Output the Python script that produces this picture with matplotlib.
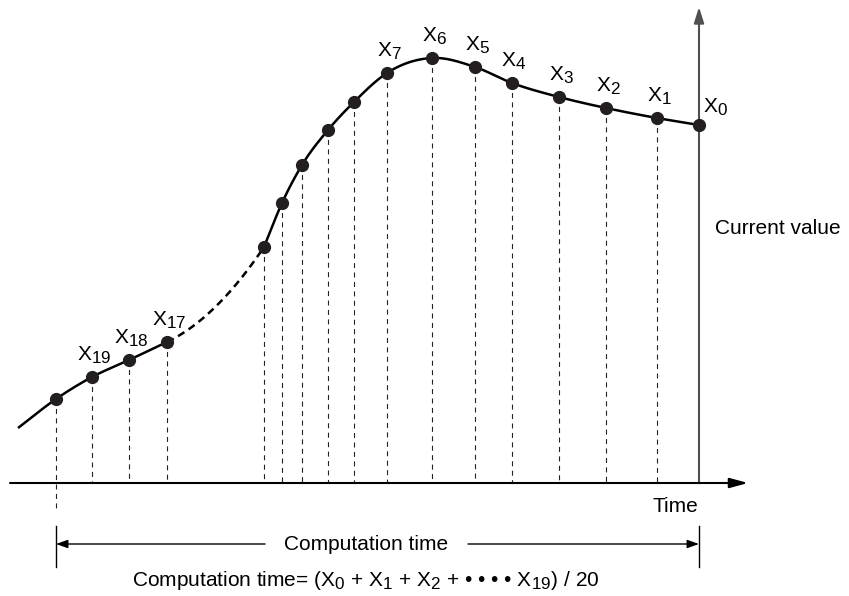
import numpy as np
import matplotlib
matplotlib.use("Agg")
import matplotlib.pyplot as plt

# larger subscripts, closer to the original drawing
try:
    import matplotlib._mathtext as _mt
    _mt.SHRINK_FACTOR = 0.82
except Exception:
    pass

plt.rcParams['font.family'] = ['Liberation Sans', 'DejaVu Sans']
plt.rcParams['mathtext.fontset'] = 'custom'
plt.rcParams['mathtext.rm'] = 'Liberation Sans'
plt.rcParams['mathtext.it'] = 'Liberation Sans'

# sample positions (time) and sampled values, newest (X0) first
sample_time = [699, 657, 606, 559, 512, 475, 432, 387, 354, 328, 302, 282, 264, 167, 129, 92, 56]
sample_value = [471, 478, 488, 499, 513, 529, 538, 523, 494, 466, 431, 393, 349, 254, 236, 219, 197]
sample_label = ['0', '1', '2', '3', '4', '5', '6', '7', '', '', '', '', '', '17', '18', '19', '']

# where the drawn curve starts (before the oldest sample)
trace_start = (18, 168)
# samples hidden by the dashed part of the curve
dashed_from, dashed_to = 167, 264

axis_level = 113       # value where the time axis sits
time_axis_end = 748
value_axis_top = 589
now_time = 699


def hermite(x, y, m, n=40):
    xs, ys = [], []
    for i in range(len(x) - 1):
        h = x[i + 1] - x[i]
        s = np.linspace(0, 1, n)
        h00 = 2 * s**3 - 3 * s**2 + 1
        h10 = s**3 - 2 * s**2 + s
        h01 = -2 * s**3 + 3 * s**2
        h11 = s**3 - s**2
        xs.append(x[i] + s * h)
        ys.append(h00 * y[i] + h10 * h * m[i] + h01 * y[i + 1] + h11 * h * m[i + 1])
    return np.concatenate(xs), np.concatenate(ys)


t = np.array(sample_time[::-1], dtype=float)
v = np.array(sample_value[::-1], dtype=float)

left = t <= dashed_from
right = t >= dashed_to
lx = np.concatenate([[trace_start[0]], t[left]])
ly = np.concatenate([[trace_start[1]], v[left]])
rx, ry = t[right], v[right]

lm = np.gradient(ly, lx)
rm = np.gradient(ry, rx)

fig = plt.figure(figsize=(8.49, 5.96), dpi=100)
ax = fig.add_axes([0, 0, 1, 1])
ax.set_xlim(0, 849)
ax.set_ylim(0, 596)
ax.axis('off')

# curve
cx, cy = hermite(lx, ly, lm)
ax.plot(cx, cy, color='black', lw=1.8, solid_capstyle='butt', zorder=3)
cx, cy = hermite(rx, ry, rm)
ax.plot(cx, cy, color='black', lw=1.8, zorder=3)
# dashed part: quadratic arc leaving the last left sample tangentially
sec = (ry[0] - ly[-1]) / (rx[0] - lx[-1])
dx, dy = hermite([lx[-1], rx[0]], [ly[-1], ry[0]], [lm[-1], 2 * sec - lm[-1]])
ax.plot(dx, dy, color='black', lw=1.8, ls=(0, (3, 2)), zorder=3)

# drop lines
for ti, vi in zip(sample_time, sample_value):
    if ti == now_time:
        continue
    bottom = axis_level
    if ti == min(sample_time):
        bottom = axis_level - 27
    ax.plot([ti, ti], [vi, bottom], color='#222222', lw=0.8, ls=(0, (4.5, 4)), zorder=2)

# sample points
ax.plot(sample_time, sample_value, 'o', ms=8.5, color='#231f20', zorder=4)

# labels
for ti, vi, lab in zip(sample_time, sample_value, sample_label):
    if not lab:
        continue
    if lab == '0':
        ax.text(ti + 16, vi + 12, r'$\mathrm{X}_{%s}$' % lab, fontsize=15,
                ha='center', va='baseline')
    else:
        ax.text(ti + 2, vi + 16, r'$\mathrm{X}_{%s}$' % lab, fontsize=15,
                ha='center', va='baseline')

# axes
ax.annotate('', xy=(time_axis_end, axis_level), xytext=(10, axis_level),
            arrowprops=dict(arrowstyle='-|>,head_length=1.1,head_width=0.3',
                            mutation_scale=10, lw=1.5, color='black',
                            shrinkA=0, shrinkB=0))
ax.annotate('', xy=(now_time, value_axis_top), xytext=(now_time, axis_level),
            arrowprops=dict(arrowstyle='-|>,head_length=0.95,head_width=0.3',
                            mutation_scale=10, lw=1.5, color='#505050',
                            shrinkA=0, shrinkB=0), zorder=1)

ax.text(675, 90, 'Time', fontsize=15, ha='center', va='center')
ax.text(715, 368, 'Current value', fontsize=15, ha='left', va='center')

# computation window bracket
start_t = min(sample_time)
for xb in (start_t, now_time):
    ax.plot([xb, xb], [29, 70], color='black', lw=1.0)
ax.annotate('', xy=(start_t, 52), xytext=(265, 52),
            arrowprops=dict(arrowstyle='-|>,head_length=0.7,head_width=0.25',
                            mutation_scale=10, lw=1.0, color='black',
                            shrinkA=0, shrinkB=0))
ax.annotate('', xy=(now_time, 52), xytext=(468, 52),
            arrowprops=dict(arrowstyle='-|>,head_length=0.7,head_width=0.25',
                            mutation_scale=10, lw=1.0, color='black',
                            shrinkA=0, shrinkB=0))
ax.text(366, 52, 'Computation time', fontsize=15, ha='center', va='center')
ax.text(366, 16,
        r'Computation time= ($\mathrm{X}_{0}$ + $\mathrm{X}_{1}$ + $\mathrm{X}_{2}$ + • • • • $\mathrm{X}_{19}$) / 20',
        fontsize=15, ha='center', va='center')

fig.savefig('out.png', dpi=100)
